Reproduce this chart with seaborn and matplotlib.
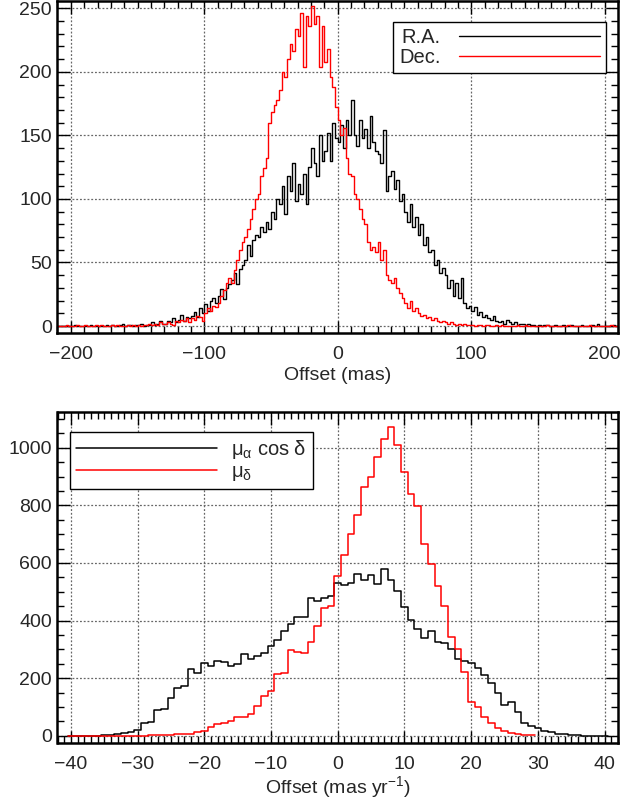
import numpy as np
import pandas as pd
import matplotlib
matplotlib.use("Agg")
import matplotlib.pyplot as plt
from matplotlib.ticker import MultipleLocator
import seaborn as sns

# ---------------- data ----------------
# Top panel: position offsets (mas), 2-mas bins from -210 to 210
pos_bin_lo, pos_bin_hi, pos_bin_w = -210, 210, 2
ra_counts = [
    0, 0, 0, 0, 0,   0, 1, 0, 0, 0,   0, 0, 1, 0, 0,   0, 0, 0, 1, 0,
    1, 0, 0, 1, 2,   0, 1, 1, 0, 1,   1, 2, 0, 1, 1,   3, 1, 2, 4, 2,
    2, 4, 3, 6, 3,   5, 9, 4, 7, 6,   8, 11, 7, 14, 10,
    17, 12, 20, 22, 18,   24, 29, 21, 30, 33,   36, 42, 33, 45, 48,
    52, 64, 55, 68, 72,   70, 78, 74, 82, 76,   90, 84, 100, 96, 110,
    88, 118, 106, 128, 98,   112, 104, 120, 96, 125,   140, 128, 118, 150, 130,
    138, 152, 130, 160, 148,   145, 158, 140, 162, 150,   178, 150, 142, 162, 148,
    155, 140, 165, 145, 138,   135, 128, 154, 106, 118,   122, 108, 115, 98, 104,
    90, 82, 96, 78, 86,   72, 80, 64, 70, 58,   60, 48, 52, 42, 46,
    40, 30, 36, 24, 34,   22, 38, 18, 14, 16,   12, 15, 9, 11, 7,
    9, 6, 5, 8, 4,   3, 4, 2, 5, 3,   2, 3, 1, 2, 2,   1, 2, 1, 1, 0,
    1, 0, 1, 1, 0,   0, 1, 0, 0, 1,   0, 0, 1, 0, 0,   0, 1, 0, 0, 0,
    1, 0, 2, 0, 0,   0, 0, 0, 1, 0,
]
dec_counts = [
    0, 0, 0, 1, 0,   0, 0, 1, 0, 0,   1, 0, 0, 0, 1,   0, 1, 0, 0, 0,
    1, 0, 1, 0, 0,   0, 1, 0, 1, 0,   1, 0, 1, 1, 2,   1, 2, 1, 3, 2,
    2, 3, 2, 1, 4,   3, 5, 4, 6, 3,   6, 5, 8, 7, 4,
    10, 14, 12, 16, 15,   18, 24, 28, 34, 38,   34, 44, 52, 60, 66,
    70, 76, 84, 92, 100,   104, 118, 124, 132, 160,   168, 174, 178, 186, 200,
    196, 210, 222, 216, 234,   228, 246, 204, 244, 236,   252, 238, 244, 204, 236,
    208, 218, 196, 188, 172,   162, 150, 156, 132, 120,   118, 104, 100, 92, 84,
    80, 66, 60, 62, 58,   66, 52, 60, 40, 36,   34, 38, 30, 26, 22,
    18, 14, 20, 12, 14,   10, 8, 9, 6, 7,   5, 6, 4, 3, 4,
    3, 2, 3, 2, 1,   2, 1, 2, 1, 1,   1, 0, 1, 1, 0,
    1, 1, 0, 0, 1,   0, 1, 0, 0, 0,   0, 0, 1, 0, 0,   1, 0, 0, 0, 0,
    0, 0, 0, 1, 0,   0, 0, 0, 0, 0,   0, 1, 0, 0, 0,   0, 0, 0, 0, 1,
    0, 0, 0, 0, 0,   0, 0, 1, 0, 0,
]
pos_labels = ["R.A.", "Dec."]

# Bottom panel: proper-motion offsets (mas/yr), 1 mas/yr bins centred on integers
pma_first, pmd_first = -40, -40
pma_counts = [
    0, 0, 1, 1, 1, 2, 2, 6, 11, 13, 21,
    45, 48, 90, 92, 130, 165, 174, 232, 219, 253,
    243, 260, 256, 243, 250, 284, 268, 276, 286, 311,
    332, 365, 388, 413, 413, 480, 469, 480, 486, 529,
    523, 529, 560, 540, 558, 527, 580, 540, 502, 448,
    402, 371, 341, 364, 326, 321, 300, 266, 259, 251,
    237, 211, 182, 147, 107, 118, 83, 46, 35, 26,
    18, 12, 8, 5, 4, 2, 1, 1, 0, 0,
]
pmd_counts = [
    0, 0, 0, 0, 0, 0, 1, 1, 1, 1, 1,
    1, 2, 2, 2, 3, 7, 8, 8, 12, 18,
    32, 40, 43, 51, 64, 66, 74, 104, 138, 156,
    214, 219, 298, 291, 286, 324, 381, 442, 450, 555,
    627, 700, 766, 865, 897, 969, 1031, 1071, 1011, 917,
    839, 799, 666, 596, 520, 450, 342, 300, 220, 118,
    100, 64, 43, 26, 18, 10, 8, 3, 2,
]
pm_labels = [r"$\mathregular{\mu_{\alpha}}$ cos δ", r"$\mathregular{\mu_{\delta}}$"]

# ---------------- style ----------------
sns.set_style("ticks")
plt.rcParams['font.family'] = ['Liberation Sans', 'DejaVu Sans']
plt.rcParams['mathtext.fontset'] = 'custom'
plt.rcParams['mathtext.rm'] = 'Liberation Sans'
plt.rcParams['mathtext.it'] = 'Liberation Sans:italic'

fig = plt.figure(figsize=(6.23, 8.01), dpi=100)
ax1 = fig.add_axes([57.5 / 623, 1 - 333.3 / 801, 560.5 / 623, 332.3 / 801])
ax2 = fig.add_axes([57.5 / 623, 1 - 743.3 / 801, 560.5 / 623, 331.6 / 801])

# top histograms
pos_centers = np.arange(pos_bin_lo, pos_bin_hi, pos_bin_w) + pos_bin_w / 2
top_df = pd.DataFrame({"offset": pos_centers, "ra": ra_counts, "dec": dec_counts})
sns.histplot(data=top_df, x="offset", weights="ra", binwidth=pos_bin_w,
             binrange=(pos_bin_lo, pos_bin_hi), element="step",
             fill=False, color="black", lw=1.0, ax=ax1, label=pos_labels[0])
sns.histplot(data=top_df, x="offset", weights="dec", binwidth=pos_bin_w,
             binrange=(pos_bin_lo, pos_bin_hi), element="step",
             fill=False, color="#ff0000", lw=1.0, ax=ax1, label=pos_labels[1])

# bottom histograms
pma_centers = np.arange(len(pma_counts)) + pma_first
pmd_centers = np.arange(len(pmd_counts)) + pmd_first
pma_df = pd.DataFrame({"offset": pma_centers, "n": pma_counts})
pmd_df = pd.DataFrame({"offset": pmd_centers, "n": pmd_counts})
sns.histplot(data=pma_df, x="offset", weights="n", discrete=True,
             element="step", fill=False, color="black", lw=1.1, ax=ax2, label=pm_labels[0])
sns.histplot(data=pmd_df, x="offset", weights="n", discrete=True,
             element="step", fill=False, color="#ff0000", lw=1.1, ax=ax2, label=pm_labels[1])

ax1.set_xlim(-210, 210)
ax1.set_ylim(-5.7, 255.7)
ax2.set_xlim(-42, 42)
ax2.set_ylim(-26, 1125)

ax1.xaxis.set_major_locator(MultipleLocator(100))
ax1.xaxis.set_minor_locator(MultipleLocator(10))
ax1.yaxis.set_major_locator(MultipleLocator(50))
ax1.yaxis.set_minor_locator(MultipleLocator(10))
ax2.xaxis.set_major_locator(MultipleLocator(10))
ax2.xaxis.set_minor_locator(MultipleLocator(1))
ax2.yaxis.set_major_locator(MultipleLocator(200))
ax2.yaxis.set_minor_locator(MultipleLocator(50))

for ax in (ax1, ax2):
    ax.set_ylabel("")
    ax.set_axisbelow(True)
    ax.grid(True, which="major", linestyle=(0, (1.5, 1.5)), color="0.4", lw=0.9)
    ax.tick_params(which="both", direction="in", top=True, right=True,
                   width=1.0, labelsize=14, color="black")
    ax.tick_params(which="major", length=9)
    ax.tick_params(which="minor", length=5)
    ax.tick_params(axis="x", pad=9)
    ax.tick_params(axis="y", pad=4)
    for sp in ax.spines.values():
        sp.set_linewidth(1.8)
        sp.set_color("black")

ax1.set_xlabel("Offset (mas)", fontsize=14, labelpad=3)
ax2.set_xlabel(r"Offset (mas yr$^{-1}$)", fontsize=14, labelpad=1)

leg1 = ax1.legend(loc="upper right", bbox_to_anchor=(0.978, 0.938), borderaxespad=0,
                  markerfirst=False, handlelength=7.0, handletextpad=0.9,
                  fontsize=14.5, fancybox=False, edgecolor="black", framealpha=1,
                  borderpad=0.3, labelspacing=0.05)
leg1.get_frame().set_linewidth(1.0)
leg2 = ax2.legend(loc="upper left", bbox_to_anchor=(0.0223, 0.94), borderaxespad=0,
                  markerfirst=True, handlelength=7.0, handletextpad=0.7,
                  fontsize=14.5, fancybox=False, edgecolor="black", framealpha=1,
                  borderpad=0.3, labelspacing=0.05)
leg2.get_frame().set_linewidth(1.0)

fig.savefig("out.png", dpi=100)
